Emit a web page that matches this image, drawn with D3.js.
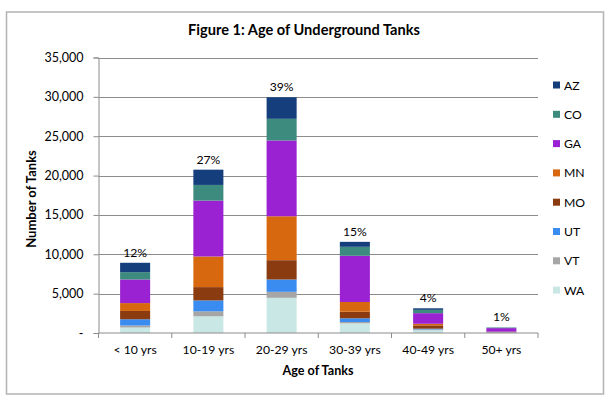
<!DOCTYPE html>
<html><head><meta charset="utf-8">
<script src="https://cdn.jsdelivr.net/npm/d3@7"></script>
<style>
html,body{margin:0;padding:0;background:#fff;}
svg text{font-family:Lato,"Open Sans",sans-serif;fill:#000;}
</style></head>
<body>
<svg id="chart" width="608" height="400"></svg>
<script>
const categories = ["< 10 yrs","10-19 yrs","20-29 yrs","30-39 yrs","40-49 yrs","50+ yrs"];
const seriesNames = ["AZ","CO","GA","MN","MO","UT","VT","WA"];
const AZ = [1190, 1940, 2740, 630, 200, 30];
const CO = [930, 1990, 2750, 1140, 420, 50];
const GA = [3000, 7100, 9630, 5870, 1350, 450];
const MN = [1000, 3890, 5580, 1230, 200, 30];
const MO = [1050, 1690, 2450, 840, 420, 50];
const UT = [800, 1390, 1570, 470, 100, 20];
const VT = [250, 630, 760, 170, 100, 20];
const WA = [700, 2120, 4470, 1230, 350, 50];
const pctLabels = ["12%","27%","39%","15%","4%","1%"];
const yTicks = [0,5000,10000,15000,20000,25000,30000,35000];
const colors = ["#153f7c","#3d8a7f","#9a22d2","#d7680f","#8a3b10","#3a8cf0","#a6a6a6","#c9e7e4"];

(function(){
const seriesValues = {AZ,CO,GA,MN,MO,UT,VT,WA};
const table = categories.map((c,i)=>{
  const row = {cat:c};
  seriesNames.forEach(s=>row[s]=seriesValues[s][i]);
  return row;
});
const stackOrder = seriesNames.slice().reverse();
const stacked = d3.stack().keys(stackOrder)(table);
const color = d3.scaleOrdinal().domain(seriesNames).range(colors);

const svg = d3.select("#chart");
const pLeft = 98.5, pRight = 538, pTop = 57.5, pBottom = 333;
const x = d3.scaleBand().domain(categories).range([pLeft,pRight]).paddingInner(0.59).paddingOuter(0.295);
const y = d3.scaleLinear().domain([0,35000]).range([pBottom,pTop]);

svg.append("rect").attr("x",6.5).attr("y",12).attr("width",597).attr("height",382)
  .attr("fill","none").attr("stroke","#b3b3b3").attr("stroke-width",1.5);

svg.append("text").attr("x",304).attr("y",35).attr("text-anchor","middle")
  .style("font-weight","bold").style("font-size","14.6px").text("Figure 1: Age of Underground Tanks");

svg.append("g").selectAll("line").data(yTicks.filter(t=>t>0)).join("line")
  .attr("x1",pLeft).attr("x2",pRight).attr("y1",d=>Math.round(y(d))+0.5).attr("y2",d=>Math.round(y(d))+0.5)
  .attr("stroke","#8c8c8c").attr("stroke-width",1);

svg.append("g").selectAll("g").data(stacked).join("g")
  .attr("fill",d=>color(d.key))
  .selectAll("rect").data(d=>d).join("rect")
  .attr("x",d=>x(d.data.cat)).attr("width",x.bandwidth())
  .attr("y",d=>y(d[1])).attr("height",d=>y(d[0])-y(d[1]));

const yAxis = d3.axisLeft(y).tickValues(yTicks).tickSize(5).tickPadding(10)
  .tickFormat(d=>d===0?"-":d3.format(",")(d));
const ya = svg.append("g").attr("transform",`translate(${pLeft},0)`).call(yAxis);
ya.select(".domain").attr("stroke","#8c8c8c");
ya.selectAll(".tick line").attr("stroke","#8c8c8c");
ya.selectAll("text").style("font-size","12.5px").attr("fill","#000");

const xa = svg.append("g").attr("transform",`translate(0,${pBottom})`);
xa.append("line").attr("x1",pLeft).attr("x2",pRight).attr("stroke","#8c8c8c");
const bounds = categories.map(c=>x(c)-x.step()*x.paddingInner()/2).concat([pRight]);
xa.selectAll("line.tk").data(bounds).join("line").attr("class","tk")
  .attr("x1",d=>d).attr("x2",d=>d).attr("y1",0).attr("y2",5).attr("stroke","#8c8c8c");
xa.selectAll("text").data(categories).join("text")
  .attr("x",d=>x(d)+x.bandwidth()/2).attr("y",21).attr("text-anchor","middle")
  .style("font-size","12.2px").text(d=>d);

svg.append("g").selectAll("text").data(table).join("text")
  .attr("x",d=>x(d.cat)+x.bandwidth()/2)
  .attr("y",(d,i)=>y(stacked[stacked.length-1][i][1])-6)
  .attr("text-anchor","middle").style("font-size","12.2px")
  .text((d,i)=>pctLabels[i]);

svg.append("text").attr("x",318).attr("y",375).attr("text-anchor","middle")
  .style("font-weight","bold").style("font-size","12.6px").text("Age of Tanks");
svg.append("text").attr("transform","translate(36,199) rotate(-90)").attr("text-anchor","middle")
  .style("font-weight","bold").style("font-size","13px").text("Number of Tanks");

const lg = svg.append("g").selectAll("g").data(seriesNames).join("g")
  .attr("transform",(d,i)=>`translate(553,${85+i*29.3})`);
lg.append("rect").attr("x",0).attr("y",-3.5).attr("width",7).attr("height",7).attr("fill",d=>color(d));
lg.append("text").attr("x",11).attr("y",4.5).style("font-size","12.2px").text(d=>d);
})();
</script>
</body></html>
